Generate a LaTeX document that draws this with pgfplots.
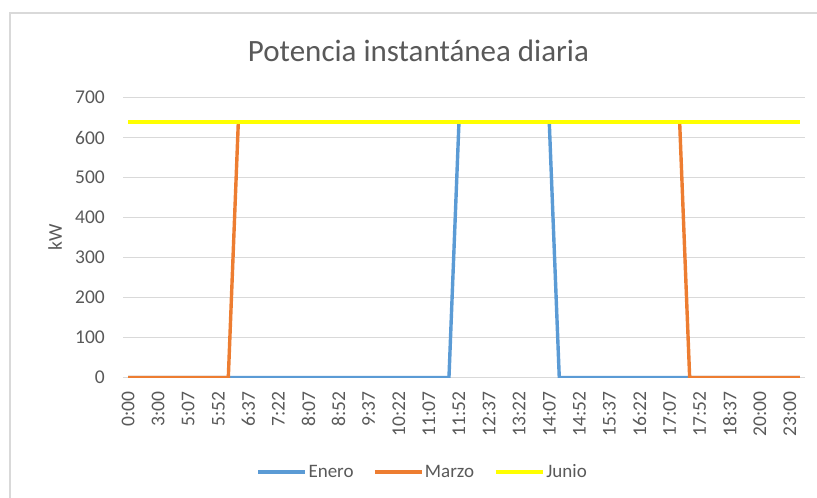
\documentclass[border=0pt]{standalone}
\usepackage{pgfplots}
\pgfplotsset{compat=1.18}
\usepackage{fontspec}
\setmainfont{Carlito}
\definecolor{eblue}{HTML}{5B9BD5}
\definecolor{eorange}{HTML}{ED7D31}
\definecolor{eyellow}{HTML}{FFFF00}
\definecolor{gridgray}{HTML}{D9D9D9}
\definecolor{txtgray}{HTML}{595959}
\begin{document}
\begin{tikzpicture}
\useasboundingbox (0,0) rectangle (817bp,498bp);
\draw[gridgray, line width=1.6bp] (10bp,0bp) -- (10bp,485bp) -- (818bp,485bp);
\node[anchor=base, text=txtgray, font=\fontsize{31bp}{34bp}\selectfont, inner sep=0pt] at (418.5bp,436.3bp) {Potencia instantánea diaria};
\begin{axis}[
  at={(123bp,120.3bp)}, anchor=south west,
  width=682bp, height=280bp, scale only axis,
  xmin=-0.5, xmax=67.5, ymin=0, ymax=700,
  ytick={0,100,...,700},
  xtick={0,3,...,66},
  xticklabels={0:00,3:00,5:07,5:52,6:37,7:22,8:07,8:52,9:37,10:22,11:07,11:52,12:37,13:22,14:07,14:52,15:37,16:22,17:07,17:52,18:37,20:00,23:00},
  ymajorgrids, grid style={draw=gridgray, line width=1.2bp},
  axis line style={draw=none},
  major tick length=0pt,
  tick style={draw=none},
  /pgf/number format/assume math mode=true,
  ticklabel style={text=txtgray, font=\fontsize{19.5bp}{21bp}\selectfont, inner sep=0pt},
  yticklabel style={anchor=east},
  yticklabel shift=18bp,
  xticklabel style={rotate=90, anchor=east},
  xticklabel shift=14bp,
  ylabel={kW},
  ylabel style={at={(axis description cs:-0.0997,0.5)}, anchor=center, text=txtgray, font=\fontsize{19.5bp}{21bp}\selectfont, inner sep=0pt},
  legend columns=3,
  legend style={at={(0.4391,-0.3368)}, anchor=center, draw=none, fill=none, inner sep=0pt,
    font=\fontsize{19bp}{21bp}\selectfont, text=txtgray,
    nodes={inner sep=1.5bp},
    /tikz/every even column/.append style={column sep=18bp}},
  legend image code/.code={\draw[#1] (0bp,0bp) -- (47bp,0bp);},
  every axis plot/.append style={line join=round},
]
\addplot[color=eblue, line width=3.4bp] coordinates {
(0,0) (32,0) (33,640) (42,640) (43,0) (67,0)};
\addlegendentry{Enero}
\addplot[color=eorange, line width=3.4bp] coordinates {
(0,0) (10,0) (11,640) (55,640) (56,0) (67,0)};
\addlegendentry{Marzo}
\addplot[color=eyellow, line width=4.4bp] coordinates {
(0,640) (67,640)};
\addlegendentry{Junio}
\end{axis}
\end{tikzpicture}
\end{document}
